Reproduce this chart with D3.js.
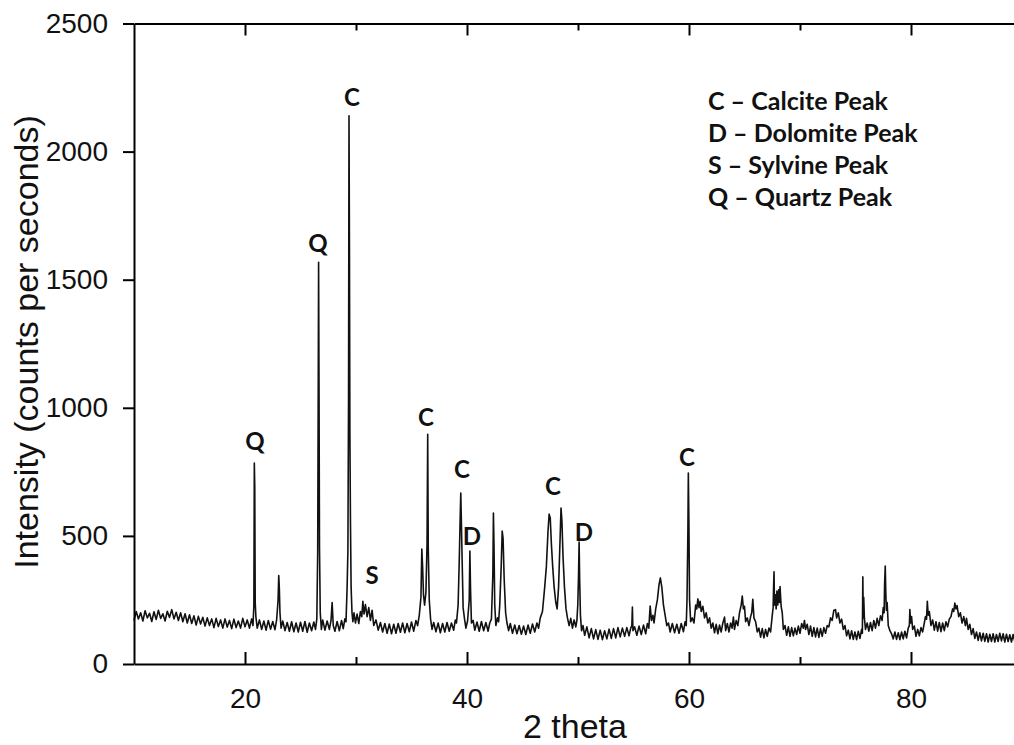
<!DOCTYPE html>
<html>
<head>
<meta charset="utf-8">
<script src="https://cdn.jsdelivr.net/npm/d3@7"></script>
<style>
  html, body { margin: 0; padding: 0; background: #fff; }
  svg { display: block; }
</style>
</head>
<body>
<div id="chart"></div>
<script>
// XRD scan: [2 theta, counts per second]
// (background points follow the top and bottom of the noise band)
const scan10to30 = [
  [10.0,170],[10.2,205],[10.4,176],[10.6,200],[10.8,168],[11.0,208],[11.2,180],[11.4,198],
  [11.6,166],[11.8,204],[12.0,174],[12.2,210],[12.4,178],[12.6,196],[12.8,168],[13.0,206],
  [13.2,182],[13.4,212],[13.6,176],[13.8,202],[14.0,170],[14.2,200],[14.4,165],[14.6,196],
  [14.8,160],[15.0,192],[15.2,158],[15.4,188],[15.6,152],[15.8,186],[16.0,156],[16.2,182],
  [16.4,148],[16.6,180],[16.8,150],[17.0,176],[17.2,142],[17.4,178],[17.6,146],[17.8,172],
  [18.0,140],[18.2,176],[18.4,144],[18.6,170],[18.8,138],[19.0,175],[19.2,142],[19.4,168],
  [19.6,140],[19.8,178],[20.0,145],[20.2,172],[20.4,140],[20.6,176],[20.72,150],
  [20.8,230],[20.84,784],[20.88,690],[20.92,240],[20.98,185],
  [21.1,140],[21.3,172],[21.5,135],[21.7,168],[21.9,132],[22.1,170],[22.3,136],[22.5,166],
  [22.7,134],[22.85,172],[22.98,250],[23.04,345],[23.09,300],[23.15,200],[23.25,140],
  [23.4,168],[23.6,130],[23.8,162],[24.0,128],[24.2,165],[24.4,126],[24.6,160],[24.8,125],
  [25.0,163],[25.2,128],[25.4,166],[25.6,124],[25.8,160],[26.0,130],[26.2,164],[26.35,135],
  [26.47,175],[26.55,440],[26.6,1100],[26.63,1568],[26.67,1060],[26.71,460],[26.78,200],[26.88,135],
  [27.0,172],[27.2,132],[27.4,168],[27.6,135],[27.75,170],[27.85,240],[27.95,150],[28.1,128],
  [28.3,166],[28.5,130],[28.7,170],[28.85,138],[29.0,176],[29.1,165],[29.2,300],[29.27,440],
  [29.33,1050],[29.37,2140],[29.41,1620],[29.45,900],[29.5,560],[29.56,300],[29.64,200],[29.72,165],
  [29.82,200],[29.95,160]
];
const scan30to50 = [
  [30.1,195],[30.25,158],[30.4,205],[30.52,185],[30.62,245],[30.72,195],[30.85,232],[31.0,185],
  [31.15,220],[31.3,170],[31.45,210],[31.6,150],[31.8,172],[32.0,132],[32.2,162],[32.4,125],
  [32.6,158],[32.8,120],[33.0,156],[33.2,118],[33.4,155],[33.6,120],[33.8,158],[34.0,124],
  [34.2,160],[34.4,122],[34.6,158],[34.8,126],[35.0,164],[35.2,128],[35.4,170],[35.55,150],
  [35.7,190],[35.85,260],[35.93,449],[36.0,380],[36.08,270],[36.18,230],[36.3,280],[36.4,470],
  [36.46,897],[36.51,450],[36.6,250],[36.72,175],[36.85,135],
  [37.0,162],[37.2,126],[37.4,160],[37.6,122],[37.8,158],[38.0,125],[38.2,162],[38.4,128],
  [38.6,160],[38.8,132],[38.95,172],[39.05,160],[39.2,230],[39.3,400],[39.38,560],[39.44,667],
  [39.5,540],[39.56,410],[39.65,220],[39.78,175],[39.9,140],[40.05,168],[40.2,250],[40.26,441],
  [40.32,290],[40.4,160],[40.55,170],[40.7,132],[40.9,164],[41.1,128],[41.3,166],[41.5,130],
  [41.7,162],[41.9,128],[42.05,160],[42.2,175],[42.33,350],[42.38,589],[42.43,470],[42.5,230],
  [42.6,150],[42.75,180],[42.85,165],[42.95,230],[43.08,380],[43.17,519],[43.25,490],[43.35,330],
  [43.48,200],[43.6,160],[43.75,130],[43.9,158],[44.1,120],[44.3,152],[44.5,118],[44.7,150],
  [44.9,116],[45.1,148],[45.3,115],[45.5,152],[45.7,120],[45.9,156],[46.1,125],[46.3,160],
  [46.45,140],[46.6,180],[46.8,205],[47.0,300],[47.15,380],[47.3,520],[47.4,585],[47.5,570],
  [47.6,470],[47.72,380],[47.85,300],[48.0,240],[48.12,215],[48.25,300],[48.38,480],[48.47,609],
  [48.55,560],[48.65,420],[48.78,300],[48.92,215],[49.05,180],[49.2,150],[49.35,178],[49.5,140],
  [49.65,172],[49.8,145],[49.9,170],[49.98,230]
];
const scan50to70 = [
  [50.05,350],[50.1,476],[50.15,330],[50.22,190],[50.32,130],[50.45,150],[50.6,112],[50.8,145],
  [51.0,102],[51.2,138],[51.4,98],[51.6,134],[51.8,96],[52.0,132],[52.2,95],[52.4,130],
  [52.6,98],[52.8,136],[53.0,100],[53.2,138],[53.4,102],[53.6,142],[53.8,106],[54.0,140],
  [54.2,108],[54.4,142],[54.6,110],[54.75,140],[54.85,150],[54.9,222],[54.95,130],[55.1,145],
  [55.3,112],[55.5,148],[55.7,115],[55.9,152],[56.1,118],[56.25,158],[56.38,140],[56.5,226],
  [56.62,170],[56.75,190],[56.85,160],[57.0,215],[57.15,250],[57.3,310],[57.42,336],[57.55,300],
  [57.7,230],[57.85,190],[58.0,150],[58.15,160],[58.3,125],[58.5,158],[58.7,122],[58.9,155],
  [59.1,120],[59.3,158],[59.5,126],[59.65,165],[59.75,150],[59.82,250],[59.9,520],[59.94,745],
  [59.99,560],[60.05,250],[60.15,165],[60.3,180],[60.45,160],[60.6,230],[60.7,215],[60.8,254],
  [60.9,220],[61.0,245],[61.1,205],[61.25,225],[61.4,180],[61.55,200],[61.7,160],[61.85,180],
  [62.0,140],[62.15,160],[62.3,122],[62.45,155],[62.6,118],[62.75,152],[62.9,125],[63.05,160],
  [63.2,183],[63.3,130],[63.45,158],[63.6,125],[63.75,160],[63.88,140],[64.0,183],[64.1,135],
  [64.25,170],[64.4,150],[64.55,200],[64.7,230],[64.8,265],[64.9,215],[65.0,225],[65.1,165],
  [65.25,180],[65.4,150],[65.55,185],[65.65,200],[65.75,253],[65.85,180],[66.0,165],[66.15,125],
  [66.3,140],[66.45,105],[66.6,138],[66.75,102],[66.9,135],[67.05,108],[67.2,140],[67.35,125],
  [67.5,190],[67.58,220],[67.62,300],[67.66,360],[67.7,230],[67.78,270],[67.85,215],[67.92,285],
  [68.0,230],[68.08,290],[68.15,240],[68.2,302],[68.3,225],[68.4,200],[68.5,135],[68.65,150],
  [68.8,112],[68.95,145],[69.1,108],[69.25,142],[69.4,110],[69.55,140],[69.7,115],[69.85,148],
  [70.0,120]
];
const scan70to90 = [
  [70.15,158],[70.3,140],[70.4,170],[70.5,135],[70.65,155],[70.8,115],[70.95,148],[71.1,108],
  [71.25,142],[71.4,106],[71.55,140],[71.7,104],[71.85,138],[72.0,108],[72.15,142],[72.3,120],
  [72.45,150],[72.6,145],[72.75,180],[72.9,170],[73.05,210],[73.2,212],[73.3,180],[73.45,200],
  [73.6,160],[73.75,175],[73.9,135],[74.05,150],[74.2,110],[74.35,132],[74.5,98],[74.65,130],
  [74.8,96],[74.95,125],[75.1,95],[75.25,128],[75.4,100],[75.55,135],[75.62,120],[75.66,340],
  [75.7,180],[75.74,260],[75.8,180],[75.9,135],[76.05,160],[76.2,128],[76.35,162],[76.5,130],
  [76.65,170],[76.8,140],[76.95,178],[77.1,150],[77.25,188],[77.4,170],[77.5,220],[77.58,200],
  [77.62,310],[77.68,382],[77.73,280],[77.78,210],[77.85,240],[77.95,150],[78.1,130],[78.25,118],
  [78.4,98],[78.55,125],[78.7,96],[78.85,122],[79.0,95],[79.15,125],[79.3,98],[79.45,128],
  [79.6,102],[79.75,140],[79.85,150],[79.9,213],[79.96,160],[80.05,185],[80.15,135],[80.3,148],
  [80.45,108],[80.6,135],[80.75,110],[80.9,142],[81.05,125],[81.2,160],[81.3,185],[81.4,175],
  [81.47,245],[81.55,190],[81.65,205],[81.8,150],[81.95,172],[82.1,132],[82.25,165],[82.4,128],
  [82.55,162],[82.7,126],[82.85,160],[83.0,130],[83.15,165],[83.3,145],[83.45,175],[83.6,185],
  [83.75,215],[83.85,205],[83.95,238],[84.05,215],[84.15,228],[84.3,185],[84.45,200],[84.6,160],
  [84.75,185],[84.9,150],[85.0,178],[85.15,135],[85.3,155],[85.45,115],[85.6,138],[85.75,100],
  [85.9,125],[86.05,92],[86.2,122],[86.35,90],[86.5,120],[86.65,88],[86.8,118],[86.95,86],
  [87.1,116],[87.25,88],[87.4,118],[87.55,86],[87.7,115],[87.85,88],[88.0,120],[88.15,90],
  [88.3,118],[88.45,86],[88.6,116],[88.75,88],[88.9,114],[89.05,86],[89.2,115],[89.35,88],
  [89.5,112],[89.65,86],[89.8,110],[90.0,92]
];

// peak letters: [letter, 2 theta, counts level of the letter baseline]
const peakLabels = [
  ["Q", 20.9, 835], ["Q", 26.58, 1607], ["C", 29.64, 2177], ["S", 31.44, 312],
  ["C", 36.3, 929], ["C", 39.55, 726], ["D", 40.45, 464], ["C", 47.75, 659],
  ["D", 50.54, 480], ["C", 59.82, 773]
];
const legendLines = ["C \u2013 Calcite Peak", "D \u2013 Dolomite Peak", "S \u2013 Sylvine Peak", "Q \u2013 Quartz Peak"];

const xMajorTicks = [20, 40, 60, 80];
const xMinorTicks = [30, 50, 70];
const yTicks = [0, 500, 1000, 1500, 2000, 2500];

const width = 1014, height = 745;
const svg = d3.select("#chart").append("svg")
  .attr("width", width)
  .attr("height", height);

const x = d3.scaleLinear().domain([10, 90]).range([134, 1022]);
const y = d3.scaleLinear().domain([0, 2500]).range([664, 23.5]);

const scan = scan10to30.concat(scan30to50, scan50to70, scan70to90);

// trace
svg.append("path")
  .datum(scan)
  .attr("fill", "none")
  .attr("stroke", "#111")
  .attr("stroke-width", 1.6)
  .attr("stroke-linejoin", "round")
  .attr("d", d3.line().x(d => x(d[0])).y(d => y(d[1])));

// axes
function styleAxis(g) {
  g.selectAll("path.domain").attr("stroke", "#000").attr("stroke-width", 2);
  g.selectAll(".tick line").attr("stroke", "#000").attr("stroke-width", 2);
  g.selectAll("text")
    .style("font-family", "Liberation Sans, Arial, sans-serif")
    .style("font-size", "28px")
    .attr("fill", "#111");
}

svg.append("g")
  .attr("transform", `translate(0,${y(0)})`)
  .call(d3.axisBottom(x).tickValues(xMajorTicks).tickSize(-12).tickSizeOuter(0).tickPadding(24))
  .call(styleAxis);

svg.append("g")
  .attr("transform", `translate(0,${y(0)})`)
  .call(d3.axisBottom(x).tickValues(xMinorTicks).tickSize(-7).tickFormat(""))
  .call(g => g.select(".domain").remove())
  .call(styleAxis);

svg.append("g")
  .attr("transform", `translate(0,${y(2500)})`)
  .call(d3.axisTop(x).tickValues(xMajorTicks).tickSize(-12).tickSizeOuter(0).tickFormat(""))
  .call(styleAxis);

svg.append("g")
  .attr("transform", `translate(0,${y(2500)})`)
  .call(d3.axisTop(x).tickValues(xMinorTicks).tickSize(-7).tickFormat(""))
  .call(g => g.select(".domain").remove())
  .call(styleAxis);

svg.append("g")
  .attr("transform", `translate(${x(10)},0)`)
  .call(d3.axisLeft(y).tickValues(yTicks).tickSize(11).tickSizeOuter(0).tickPadding(15).tickFormat(d3.format("d")))
  .call(styleAxis);

// axis titles
svg.append("text")
  .attr("x", 575)
  .attr("y", 738)
  .attr("text-anchor", "middle")
  .style("font-family", "Liberation Sans, Arial, sans-serif")
  .style("font-size", "34px")
  .attr("fill", "#111")
  .text("2 theta");

svg.append("text")
  .attr("transform", "translate(38,342) rotate(-90)")
  .attr("text-anchor", "middle")
  .style("font-family", "Liberation Sans, Arial, sans-serif")
  .style("font-size", "34px")
  .attr("fill", "#111")
  .text("Intensity (counts per seconds)");

// peak letters
svg.append("g").selectAll("text")
  .data(peakLabels)
  .join("text")
  .attr("x", d => x(d[1]))
  .attr("y", d => y(d[2]))
  .attr("text-anchor", "middle")
  .style("font-family", "Lato, Open Sans, sans-serif")
  .style("font-weight", "bold")
  .style("font-size", "24px")
  .attr("fill", "#111")
  .text(d => d[0]);

// legend block
svg.append("g").selectAll("text")
  .data(legendLines)
  .join("text")
  .attr("x", 708)
  .attr("y", (d, i) => 110 + i * 32)
  .style("font-family", "Lato, Open Sans, sans-serif")
  .style("font-weight", "bold")
  .style("font-size", "25px")
  .attr("fill", "#111")
  .text(d => d);
</script>
</body>
</html>
